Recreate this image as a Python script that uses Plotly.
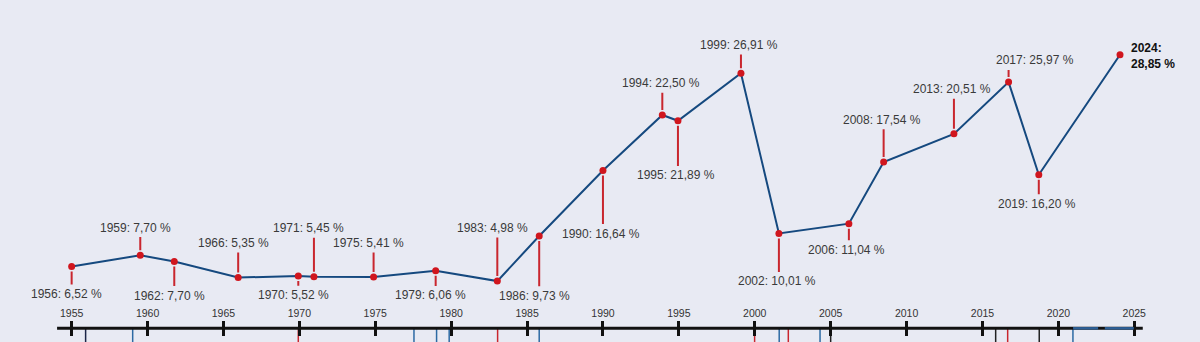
import plotly.graph_objects as go

# ---------------- data ----------------
election_years = ["1956", "1959", "1962", "1966", "1970", "1971", "1975", "1979", "1983", "1986",
                  "1990", "1994", "1995", "1999", "2002", "2006", "2008", "2013", "2017", "2019", "2024"]
# horizontal position on the time axis as drawn in the chart (decimal years)
x_position = [1955.00, 1959.52, 1961.76, 1965.97, 1969.93, 1970.96, 1974.89, 1978.98, 1983.04, 1985.80,
              1990.00, 1993.91, 1994.94, 1999.09, 2001.59, 2006.20, 2008.49, 2013.12, 2016.72, 2018.71, 2024.06]
vote_share = [6.52, 7.70, 7.04, 5.35, 5.52, 5.45, 5.41, 6.06, 4.98, 9.73,
              16.64, 22.50, 21.89, 26.91, 10.01, 11.04, 17.54, 20.51, 25.97, 16.20, 28.85]
label_values = ["6,52", "7,70", "7,70", "5,35", "5,52", "5,45", "5,41", "6,06", "4,98", "9,73",
                "16,64", "22,50", "21,89", "26,91", "10,01", "11,04", "17,54", "20,51", "25,97", "16,20", "28,85"]

tick_years = [1955, 1960, 1965, 1970, 1975, 1980, 1985, 1990, 1995, 2000, 2005, 2010, 2015, 2020, 2025]

# marks of the timeline strip below the axis
strip_x = [1955.92, 1959.02, 1969.93, 1977.55, 1979.04, 1979.87, 1983.06, 1985.80, 1999.99,
           2001.61, 2002.21, 2004.30, 2005.00, 2015.87, 2016.66, 2018.74, 2020.96]
strip_kind = ["navy", "blue", "red", "blue", "blue", "blue", "red", "blue", "red",
              "blue", "red", "blue", "black", "black", "red", "black", "blue"]
strip_bar_start = [2020.97, 2023.06]
strip_bar_end = [2022.62, 2024.97]

# ---------------- styling / layout ----------------
BG = "#e8eaf3"
LINE = "#15497f"
DOT = "#d0161e"
CONN = "#c9262e"
TXT = "#3a3a3a"
kind_color = {"navy": "#1c2547", "blue": "#2d6aa3", "red": "#c9262e", "black": "#222222"}

# pixel offset of label centre from point (positive = below), None = right-side label
label_offset = [27.6, -27.7, 34, -34.7, 19.3, -48.3, -34, 24.6, -53, 59.6,
                63, -31.7, 54.6, -28.3, 48, 26, -42.3, -44.7, -21.7, 29, None]
label_xshift = [-42.5] * 21
label_xshift[18] = -14.7

X_RANGE = [1950.28, 2029.33]
Y_RANGE = [-1.445, 34.63]
AX_POS = 13.7 / 342

fig = go.Figure()
fig.add_trace(go.Scatter(
    x=x_position, y=vote_share, mode="lines+markers",
    line=dict(color=LINE, width=2), marker=dict(color=DOT, size=7),
    hoverinfo="skip", showlegend=False, cliponaxis=False))
fig.add_trace(go.Scatter(x=[], y=[], xaxis="x2", yaxis="y", showlegend=False))

shapes = []
for xv, k in zip(strip_x, strip_kind):
    shapes.append(dict(type="line", xref="x", yref="y", x0=xv, x1=xv, y0=0, y1=Y_RANGE[0],
                       line=dict(color=kind_color[k], width=1.5), layer="below"))
shapes.append(dict(type="line", xref="x", yref="y", x0=1954.04, x1=2025.56, y0=0, y1=0,
                   line=dict(color="#111111", width=3), layer="above"))
for a, b in zip(strip_bar_start, strip_bar_end):
    shapes.append(dict(type="line", xref="x", yref="y", x0=a, x1=b, y0=0, y1=0,
                       line=dict(color="#2d5f96", width=2.5), layer="above"))

annotations = []
for i, (yr, xv, v, lv) in enumerate(zip(election_years, x_position, vote_share, label_values)):
    d = label_offset[i]
    if d is None:
        annotations.append(dict(x=xv, y=v, xref="x", yref="y",
                                text="<b>%s:<br>%s %%</b>" % (yr, lv), showarrow=False,
                                xanchor="left", yanchor="middle", align="left", xshift=8.5, yshift=-1,
                                font=dict(family="Liberation Sans", size=12, color="#111111")))
        continue
    sgn = 1 if d > 0 else -1
    annotations.append(dict(x=xv, y=v, xref="x", yref="y", text="%s: %s %%" % (yr, lv), showarrow=False,
                            xanchor="left", yanchor="middle", xshift=label_xshift[i], yshift=-d,
                            font=dict(family="Liberation Sans", size=12, color=TXT)))
    annotations.append(dict(x=xv, y=v, xref="x", yref="y", text="", showarrow=True,
                            arrowhead=0, arrowwidth=2, arrowcolor=CONN, standoff=5,
                            ax=0, ay=d - 8 * sgn, font=dict(size=1)))

fig.update_layout(
    width=1200, height=342, autosize=False,
    margin=dict(l=0, r=0, t=0, b=0),
    paper_bgcolor=BG, plot_bgcolor=BG,
    xaxis=dict(range=X_RANGE, anchor="free", position=AX_POS, ticks="outside", ticklen=7,
               tickwidth=2.5, tickcolor="#111111", tickvals=tick_years, showticklabels=False,
               showgrid=False, zeroline=False, showline=False, fixedrange=True),
    xaxis2=dict(range=X_RANGE, overlaying="x", side="top", anchor="free", position=AX_POS,
                ticks="outside", ticklen=7, tickwidth=2.5, tickcolor="#111111",
                tickvals=tick_years, ticktext=[str(t) for t in tick_years],
                tickfont=dict(family="Liberation Sans", size=10.5, color="#333333"),
                showgrid=False, zeroline=False, showline=False, fixedrange=True),
    yaxis=dict(range=Y_RANGE, visible=False, showgrid=False, zeroline=False, fixedrange=True),
    shapes=shapes, annotations=annotations,
)

fig.write_html("out.html")
